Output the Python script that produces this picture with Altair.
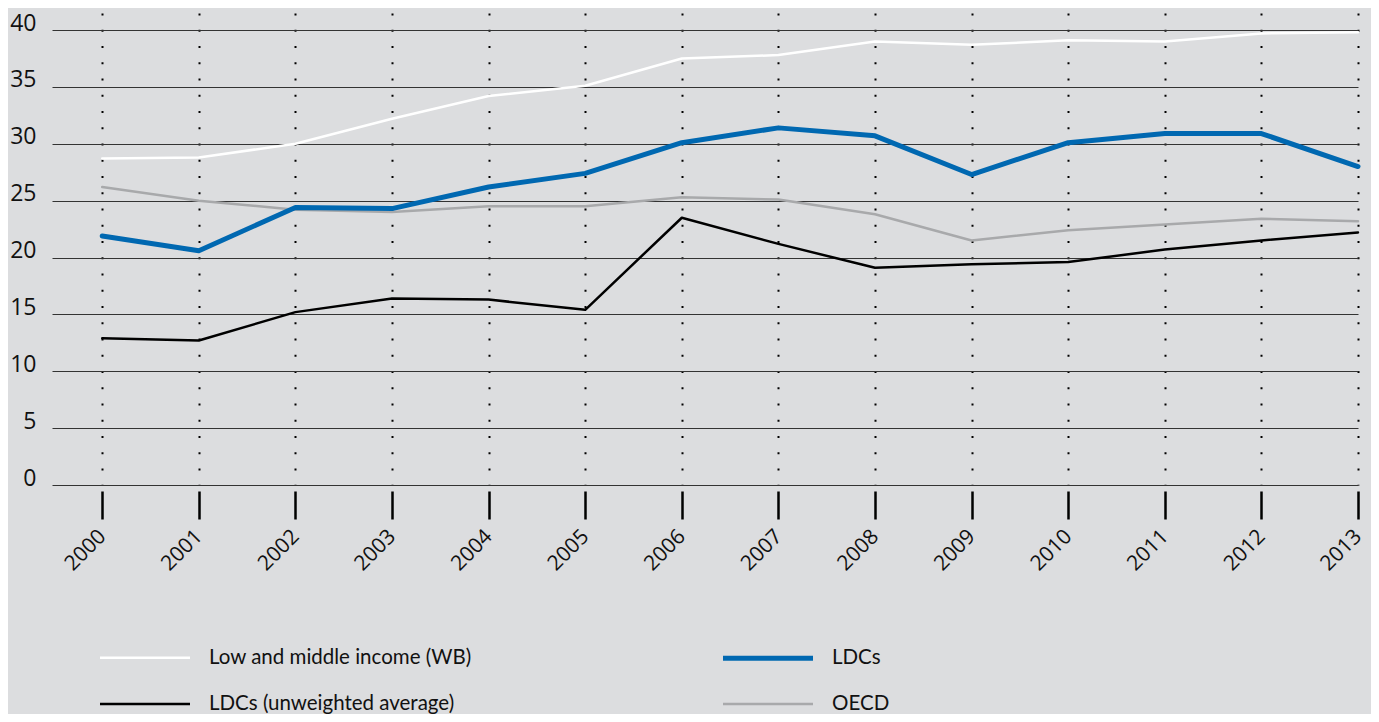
import altair as alt
import pandas as pd

years = list(range(2000, 2014))
low_middle = [28.7, 28.8, 30.0, 32.2, 34.2, 35.1, 37.5, 37.8, 39.0, 38.7, 39.1, 39.0, 39.7, 39.8]
oecd = [26.2, 25.0, 24.2, 24.0, 24.5, 24.5, 25.3, 25.1, 23.8, 21.5, 22.4, 22.9, 23.4, 23.2]
ldcs_unw = [12.9, 12.7, 15.2, 16.4, 16.3, 15.4, 23.5, 21.2, 19.1, 19.4, 19.6, 20.7, 21.5, 22.2]
ldcs = [21.9, 20.6, 24.4, 24.3, 26.2, 27.4, 30.1, 31.4, 30.7, 27.3, 30.1, 30.9, 30.9, 28.0]

series_names = ["Low and middle income (WB)", "LDCs (unweighted average)", "LDCs", "OECD"]
series_colors = ["#ffffff", "#000000", "#0068b1", "#a8a9ab"]
series_widths = [2.5, 2.5, 5, 2.5]

rows = []
for name, vals in [("Low and middle income (WB)", low_middle), ("OECD", oecd),
                   ("LDCs (unweighted average)", ldcs_unw), ("LDCs", ldcs)]:
    for y, v in zip(years, vals):
        rows.append({"year": y, "value": v, "series": name})
df = pd.DataFrame(rows)

FONT = "Open Sans"

chart = alt.Chart(df).mark_line(strokeCap="round", strokeJoin="round").encode(
    x=alt.X("year:Q", scale=alt.Scale(domain=[1999.48, 2013], nice=False, zero=False),
            axis=alt.Axis(values=years, format="d", title=None, domain=False,
                          offset=6, tickSize=28, tickWidth=2.5, tickColor="#000",
                          grid=True, gridDash=[2, 14.25], gridWidth=2, gridColor="#000",
                          labelAngle=-45, labelAlign="right", labelBaseline="middle",
                          labelPadding=14, labelFontSize=21, labelFont=FONT,
                          labelColor="#111")),
    y=alt.Y("value:Q", scale=alt.Scale(domain=[0, 41.5], nice=False),
            axis=alt.Axis(values=list(range(0, 45, 5)), title=None, domain=False,
                          ticks=False, grid=True, gridColor="#333", gridWidth=1,
                          labelPadding=16, labelFontSize=23, labelFont=FONT,
                          labelColor="#111", labelBaseline="alphabetic")),
    color=alt.Color("series:N", scale=alt.Scale(domain=series_names, range=series_colors),
                    sort=series_names,
                    legend=alt.Legend(title=None, orient="none", legendX=68, legendY=620,
                                      columns=2, columnPadding=241, rowPadding=11,
                                      symbolType="M-2,0H2", symbolSize=2025,
                                      labelOffset=39, labelFontSize=20.5, labelFont="Lato",
                                      labelColor="#111", labelLimit=400)),
    strokeWidth=alt.StrokeWidth("series:N",
                                scale=alt.Scale(type="ordinal", domain=series_names, range=series_widths),
                                sort=series_names, legend=None),
    order=alt.value(0),
).properties(
    width=1306, height=472,
    background="#dcdddf",
    padding={"left": 44, "top": 5, "right": 13, "bottom": 229},
    autosize=alt.AutoSizeParams(type="none"),
).configure_view(stroke=None)

chart.save("out.html", embed_options={"renderer": "svg", "actions": False})
